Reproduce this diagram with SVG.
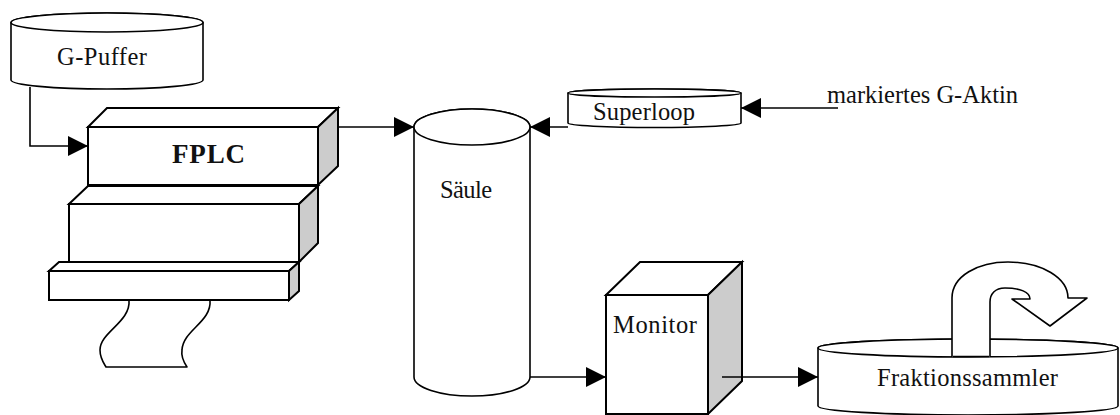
<svg xmlns="http://www.w3.org/2000/svg" width="1120" height="415" viewBox="0 0 1120 415">
  <defs>
    <marker id="arrow" markerUnits="userSpaceOnUse" markerWidth="20" markerHeight="20" refX="20" refY="10" orient="auto">
      <path d="M0,0 L20,10 L0,20 z" fill="#000"/>
    </marker>
    <style>
      .shape { fill: #fff; stroke: #000; stroke-width: 1.6; stroke-linejoin: round; }
      .box { fill: #fff; stroke: #000; stroke-width: 2; stroke-linejoin: miter; }
      .side { fill: #cccccc; stroke: #000; stroke-width: 2; stroke-linejoin: miter; }
      .wire { fill: none; stroke: #000; stroke-width: 1.6; }
      .label { font-family: "Liberation Serif", "Times New Roman", serif; font-size: 24.5px; fill: #111; }
      .bold { font-weight: bold; font-size: 27px; }
    </style>
  </defs>
  <rect width="1120" height="415" fill="#fff"/>

  <!-- buffer reservoir -->
  <g id="g-puffer">
    <path class="shape" d="M11,22.5 L11,80 A96,9 0 0 0 203,80 L203,22.5 A96,9.5 0 0 0 11,22.5 z"/>
    <ellipse class="shape" cx="107" cy="22.5" rx="96" ry="9.5"/>
    <text class="label" x="102" y="65" text-anchor="middle" textLength="90">G-Puffer</text>
  </g>

  <!-- FPLC stack with paper output -->
  <g id="fplc">
    <path class="shape" d="M129,300 C131,322 100,332 100,350 C100,358 103,362 106,367 L187,367 C183,361 181,356 182,350 C183,330 212,322 210,300"/>
    <rect class="box" x="49" y="271" width="240" height="29"/>
    <polygon class="box" points="49,271 59,262 299,262 289,271"/>
    <polygon class="side" points="289,271 299,262 299,291 289,300"/>
    <rect class="box" x="69" y="204" width="230" height="58"/>
    <polygon class="box" points="69,204 88,186 318,186 299,204"/>
    <polygon class="side" points="299,204 318,186 318,243 299,262"/>
    <rect class="box" x="88" y="127" width="230" height="58"/>
    <polygon class="box" points="88,127 107,108 338,108 318,127"/>
    <polygon class="side" points="318,127 338,108 338,166 318,185"/>
    <text class="label bold" x="208.5" y="163" text-anchor="middle" textLength="73">FPLC</text>
  </g>

  <!-- column -->
  <g id="saeule">
    <path class="shape" d="M414,127 L414,377 A58,19 0 0 0 530,377 L530,127 A58,18 0 0 0 414,127 z"/>
    <ellipse class="shape" cx="472" cy="127" rx="58" ry="18"/>
    <text class="label" x="466" y="198" text-anchor="middle" textLength="52">Säule</text>
  </g>

  <!-- sample loop -->
  <g id="superloop">
    <path class="shape" d="M568,93 L568,123 A86.5,4.5 0 0 0 741,123 L741,93 A86.5,4 0 0 0 568,93 z"/>
    <ellipse class="shape" cx="654.5" cy="93" rx="86.5" ry="4"/>
    <text class="label" x="644" y="120" text-anchor="middle" textLength="102">Superloop</text>
  </g>

  <!-- detector -->
  <g id="monitor">
    <rect class="box" x="606" y="295" width="102" height="119"/>
    <polygon class="box" points="606,295 640,262 742,262 708,295"/>
    <polygon class="side" points="708,295 742,262 742,381 708,414"/>
    <text class="label" x="655" y="333" text-anchor="middle" textLength="84">Monitor</text>
  </g>

  <!-- fraction collector with rotation arrow -->
  <g id="fraktionssammler">
    <path class="shape" d="M818,348 L818,406 A150,9 0 0 0 1118,406 L1118,348 A150,9 0 0 0 818,348 z"/>
    <ellipse class="shape" cx="968" cy="348" rx="150" ry="9"/>
    <path class="shape" d="M952,357 L952,298 C952,276 978,262 1008,262 C1042,262 1068,278 1068,298 L1087,298 L1050,326 L1012,299 L1030,299 C1030,292 1020,288 1005,288 C995,288 990,294 990,302 L990,357"/>
    <path d="M953,356.5 L989,356.5" stroke="#000" stroke-width="1.6" fill="none"/>
    <text class="label" x="967.5" y="386" text-anchor="middle" textLength="181">Fraktionssammler</text>
  </g>

  <!-- input label -->
  <g id="g-aktin">
    <text class="label" x="827" y="103" textLength="191">markiertes G-Aktin</text>
  </g>

  <!-- flow connectors -->
  <g id="connectors">
    <path class="wire" d="M30,87 L30,146 L88,146" marker-end="url(#arrow)"/>
    <path class="wire" d="M338,127 L414,127" marker-end="url(#arrow)"/>
    <path class="wire" d="M568,127 L530,127" marker-end="url(#arrow)"/>
    <path class="wire" d="M838,108 L741,108" marker-end="url(#arrow)"/>
    <path class="wire" d="M530,377 L606,377" marker-end="url(#arrow)"/>
    <path class="wire" d="M722,377 L818,377" marker-end="url(#arrow)"/>
  </g>
</svg>
